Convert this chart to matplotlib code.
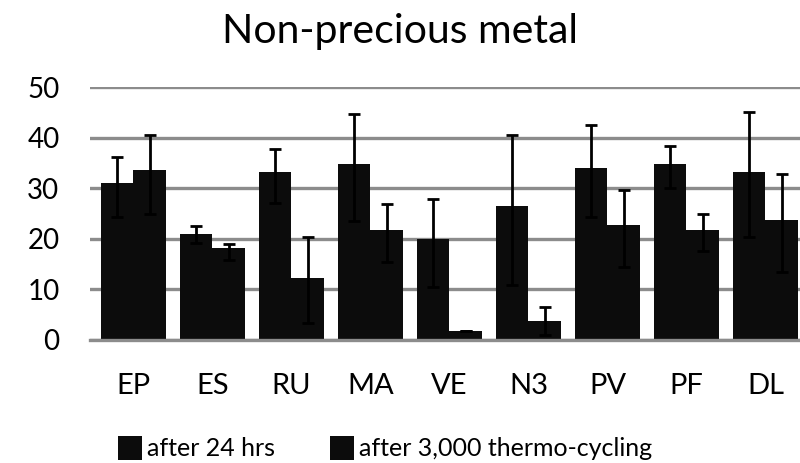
import matplotlib
matplotlib.use("Agg")
import matplotlib.pyplot as plt
import numpy as np

categories = ["EP", "ES", "RU", "MA", "VE", "N3", "PV", "PF", "DL"]
series_names = ["after 24 hrs", "after 3,000 thermo-cycling"]
vals_24h = [31.1, 20.9, 33.3, 34.7, 19.9, 26.5, 33.9, 34.7, 33.3]
err_24h_low = [6.8, 1.7, 6.2, 11.2, 9.4, 15.7, 9.6, 4.6, 13.0]
err_24h_high = [5.1, 1.7, 4.4, 9.9, 8.0, 14.1, 8.5, 3.7, 11.7]
vals_tc = [33.6, 18.1, 12.2, 21.7, 1.8, 3.7, 22.7, 21.7, 23.8]
err_tc_low = [8.6, 2.3, 8.9, 6.2, 0.0, 2.8, 8.2, 4.2, 10.4]
err_tc_high = [7.0, 0.9, 8.2, 5.1, 0.0, 2.8, 7.0, 3.3, 9.1]
yticks = [0, 10, 20, 30, 40, 50]

plt.rcParams['font.family'] = ['Lato', 'DejaVu Sans']

fig = plt.figure(figsize=(8, 4.63), dpi=100)
ax = fig.add_axes([90/800, 123/463, 715/800, 253/463])

x = np.arange(len(categories))
w = 0.41
barcol = "#0c0c0c"
ax.bar(x - w/2, vals_24h, width=w, color=barcol, zorder=2, label=series_names[0])
ax.bar(x + w/2, vals_tc, width=w, color=barcol, zorder=2, label=series_names[1])
ax.errorbar(x - w/2, vals_24h, yerr=[err_24h_low, err_24h_high], fmt="none",
            ecolor="black", elinewidth=2, capsize=4.2, capthick=2, zorder=3)
ax.errorbar(x + w/2, vals_tc, yerr=[err_tc_low, err_tc_high], fmt="none",
            ecolor="black", elinewidth=2, capsize=4.2, capthick=2, zorder=3)
ax.axhline(0, color="#8c8c8c", linewidth=2.4, zorder=2.5, clip_on=False)

ax.set_xlim(-0.55, 8.5)
ax.set_ylim(0, 50)
ax.set_yticks(yticks)
ax.set_xticks(x)
ax.set_xticklabels(categories, fontsize=21)
ax.tick_params(axis="x", length=0, pad=24)
ax.tick_params(axis="y", length=0, pad=22, labelsize=20)
ax.grid(axis="y", color="#8c8c8c", linewidth=2.4, zorder=0)
ax.set_axisbelow(True)
for s in ax.spines.values():
    s.set_visible(False)

fig.text(0.5, 1 - 43/463, "Non-precious metal", ha="center", va="baseline", fontsize=29.5)

leg = fig.legend(loc="center", bbox_to_anchor=(385/800, 1 - 448/463), ncol=2,
                 frameon=False, fontsize=18, handlelength=0.95, handleheight=1.1,
                 handletextpad=0.2, columnspacing=2.2)

fig.savefig("out.png", dpi=100)
